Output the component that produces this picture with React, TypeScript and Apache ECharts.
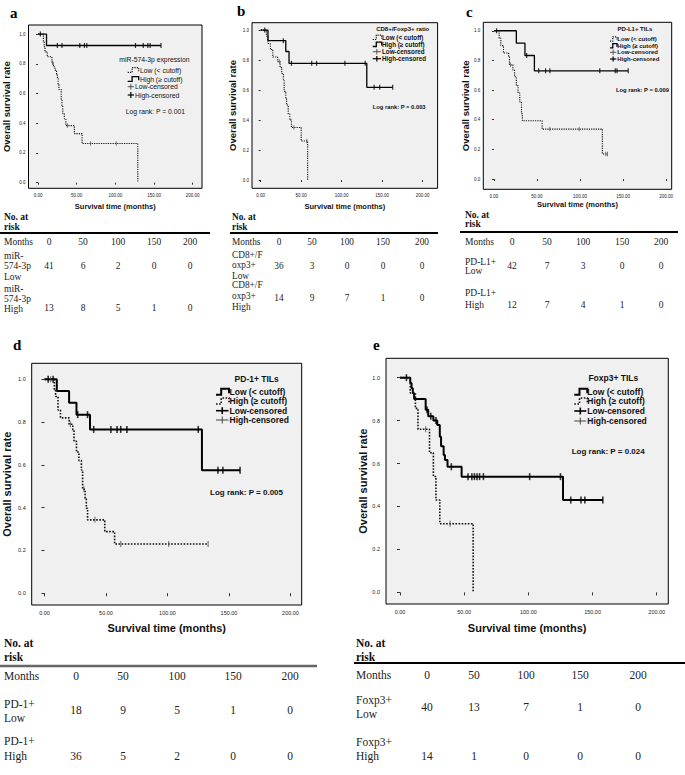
import React, { useEffect, useRef } from "react";
import * as echarts from "echarts";

const TICK_MONTHS = [0, 50, 100, 150, 200];
const SURV_TICKS = [0, 0.2, 0.4, 0.6, 0.8, 1.0];
const LEGEND_ITEMS = ["Low (< cutoff)", "High (\u2265 cutoff)", "Low-censored", "High-censored"];
const X_TITLE = "Survival time (months)";
const Y_TITLE = "Overall survival rate";
const PANEL_LABELS = ["a", "b", "c", "d", "e"];
const LEGEND_TITLES = ["miR-574-3p expression", "CD8+/Foxp3+ ratio", "PD-L1+ TILs", "PD-1+ TILs", "Foxp3+ TILs"];
const P_VALUES = ["0.001", "0.003", "0.009", "0.005", "0.024"];
const RISK_MONTHS = [0, 50, 100, 150, 200];

// ---- a: miR-574-3p ----
const aLowSteps = [[0, 1], [7, 0.951], [8, 0.915], [9, 0.88], [12, 0.847], [18, 0.805], [20, 0.78], [22, 0.757], [24, 0.73], [25, 0.7], [26, 0.66], [27, 0.627], [30, 0.555], [31, 0.52], [32, 0.465], [34, 0.43], [36, 0.384], [47, 0.33], [57, 0.263], [129, 0]];
const aLowCensored = [19, 38, 68, 101];
const aHighSteps = [[0, 1], [11, 0.923]];
const aHighCensored = [3, 25, 31, 54, 60, 63, 126, 136, 142, 145, 159];
const aRiskLabels = ["miR-\n574-3p\nLow", "miR-\n574-3p\nHigh"];
const aRiskLow = [41, 6, 2, 0, 0];
const aRiskHigh = [13, 8, 5, 1, 0];

// ---- b: CD8+/Foxp3+ ratio ----
const bLowSteps = [[0, 1], [7, 0.96], [9, 0.91], [12, 0.87], [15, 0.82], [21, 0.79], [24, 0.75], [26, 0.71], [28, 0.67], [29, 0.59], [31, 0.54], [32, 0.5], [34, 0.44], [36, 0.4], [38, 0.35], [50, 0.26], [58, 0]];
const bLowCensored = [23, 41, 57];
const bHighSteps = [[0, 1], [9, 0.929], [31, 0.857], [35, 0.778], [131, 0.618]];
const bHighCensored = [5, 28, 38, 63, 69, 104, 129, 140, 147, 163];
const bRiskLabels = ["CD8+/F\noxp3+\nLow", "CD8+/F\noxp3+\nHigh"];
const bRiskLow = [36, 3, 0, 0, 0];
const bRiskHigh = [14, 9, 7, 1, 0];

// ---- c: PD-L1+ TILs ----
const cLowSteps = [[0, 1], [6, 0.95], [8, 0.9], [11, 0.85], [17, 0.825], [18, 0.77], [22, 0.735], [24, 0.69], [26, 0.63], [28, 0.58], [30, 0.52], [32, 0.44], [33, 0.393], [56, 0.337], [126, 0.169]];
const cLowCensored = [19, 65, 99, 130, 132];
const cHighSteps = [[0, 1], [26, 0.917], [36, 0.833], [47, 0.73]];
const cHighCensored = [3, 38, 52, 60, 65, 123, 141, 143, 156];
const cRiskLabels = ["PD-L1+\nLow", "PD-L1+\nHigh"];
const cRiskLow = [42, 7, 3, 0, 0];
const cRiskHigh = [12, 7, 4, 1, 0];

// ---- d: PD-1+ TILs ----
const dLowSteps = [[0, 1], [10, 0.946], [20, 0.891], [26, 0.835], [37, 0.766], [128, 0.575]];
const dLowCensored = [3, 7, 27, 35, 40, 54, 59, 62, 67, 125, 141, 145, 159];
const dHighSteps = [[0, 1], [8, 0.95], [9, 0.92], [11, 0.857], [13, 0.82], [20, 0.79], [23, 0.76], [24, 0.71], [26, 0.66], [28, 0.62], [30, 0.576], [31, 0.486], [33, 0.44], [34, 0.397], [35, 0.343], [49, 0.288], [57, 0.23]];
const dHighCensored = [5, 21, 32, 41, 62, 101, 133];
const dRiskLabels = ["PD-1+\nLow", "PD-1+\nHigh"];
const dRiskLow = [18, 9, 5, 1, 0];
const dRiskHigh = [36, 5, 2, 0, 0];

// ---- e: Foxp3+ TILs ----
const eLowSteps = [[0, 1], [8, 0.975], [9, 0.95], [10, 0.927], [11, 0.9], [20, 0.85], [22, 0.82], [26, 0.8], [29, 0.78], [31, 0.725], [32, 0.68], [34, 0.64], [35, 0.617], [37, 0.585], [48, 0.539], [127, 0.43]];
const eLowCensored = [5, 21, 24, 28, 40, 53, 56, 58, 60, 62, 65, 101, 125, 133, 141, 144, 158];
const eHighSteps = [[0, 1], [8, 0.929], [12, 0.857], [14, 0.76], [23, 0.65], [26, 0.54], [28, 0.43], [31, 0.32], [57, 0]];
const eHighCensored = [20, 39];
const eRiskLabels = ["Foxp3+\nLow", "Foxp3+\nHigh"];
const eRiskLow = [40, 13, 7, 1, 0];
const eRiskHigh = [14, 1, 0, 0, 0];

const DATA = [
  { lowSteps: aLowSteps, lowCens: aLowCensored, highSteps: aHighSteps, highCens: aHighCensored, riskLabels: aRiskLabels, riskLow: aRiskLow, riskHigh: aRiskHigh },
  { lowSteps: bLowSteps, lowCens: bLowCensored, highSteps: bHighSteps, highCens: bHighCensored, riskLabels: bRiskLabels, riskLow: bRiskLow, riskHigh: bRiskHigh },
  { lowSteps: cLowSteps, lowCens: cLowCensored, highSteps: cHighSteps, highCens: cHighCensored, riskLabels: cRiskLabels, riskLow: cRiskLow, riskHigh: cRiskHigh },
  { lowSteps: dLowSteps, lowCens: dLowCensored, highSteps: dHighSteps, highCens: dHighCensored, riskLabels: dRiskLabels, riskLow: dRiskLow, riskHigh: dRiskHigh },
  { lowSteps: eLowSteps, lowCens: eLowCensored, highSteps: eHighSteps, highCens: eHighCensored, riskLabels: eRiskLabels, riskLow: eRiskLow, riskHigh: eRiskHigh },
];

const SANS = "'Liberation Sans', Arial, sans-serif";
const SERIF = "'Liberation Serif', 'Times New Roman', serif";

const DOT_TOP = { color: "#111", width: 1.1, type: [1.2, 1.1] };
const SOLID_TOP = { color: "#000", width: 1.3, type: "solid" };
const DOT_BOT = { color: "#111", width: 1.6, type: [1.6, 1.5] };
const SOLID_BOT = { color: "#000", width: 2, type: "solid" };

const LAYOUT = [
  {
    labelPos: [10, 12.5], grid: { left: 20, top: 25, width: 182, height: 163.3 },
    xMin: -12.3, xMax: 212, yMin: -0.038, yMax: 1.061,
    tickFont: 4.5, tickLen: 2, xLabelMargin: 5, yLabelMargin: 3,
    xNameFont: 7.5, xNameGap: 14, yNameFont: 9.5, yNameGap: 17.5,
    low: DOT_TOP, high: SOLID_TOP, lowCensor: [0.9, 4.5], highCensor: [1.2, 5], lowCensorColor: "#444", highCensorColor: "#000",
    lg: { titleX: 119.3, titleAlign: "left", titleY: 59.3, titleFont: 6.8, weight: "normal", iconX: 127.7, iconW: 11, textX: [140, 140, 135, 135], ys: [70, 79, 86.7, 95], font: 6.8, lrX: 125.7, lrY: 111, lrFont: 6.8 },
    tb: { left: 4, headY: 222, headLH: 10, ruleY: 233, ruleX1: 0, ruleX2: 210, ruleW: 1.8, ruleColor: "#000", monthsY: 242, cols: [49, 83, 118, 154, 190], font: 9.5, rowLabelY: [266.3, 299.3], rowLH: [10.3, 10], valueY: [266, 308.3] },
  },
  {
    labelPos: [237, 11], grid: { left: 252, top: 22.7, width: 185.6, height: 165.6 },
    xMin: -10.7, xMax: 218.4, yMin: -0.055, yMax: 1.049,
    tickFont: 4.5, tickLen: 2, xLabelMargin: 5, yLabelMargin: 3,
    xNameFont: 7.5, xNameGap: 14, yNameFont: 9.5, yNameGap: 15,
    low: DOT_TOP, high: SOLID_TOP, lowCensor: [0.9, 4.5], highCensor: [1.2, 5], lowCensorColor: "#444", highCensorColor: "#000",
    lg: { titleX: 402.7, titleAlign: "center", titleY: 29.3, titleFont: 6, weight: "bold", iconX: 372.7, iconW: 9, textX: [382, 382, 382, 382], ys: [37.3, 44.3, 51.7, 58.7], font: 6.3, lrX: 372.7, lrY: 107.3, lrFont: 5.8 },
    tb: { left: 232, headY: 222, headLH: 10, ruleY: 233, ruleX1: 230, ruleX2: 438, ruleW: 1.8, ruleColor: "#000", monthsY: 242, cols: [279, 312, 347, 383, 422], font: 9.3, rowLabelY: [265, 296], rowLH: [10.5, 11], valueY: [265.5, 298] },
  },
  {
    labelPos: [466, 12], grid: { left: 483.3, top: 22.3, width: 188.4, height: 167 },
    xMin: -12.4, xMax: 206.6, yMin: -0.069, yMax: 1.057,
    tickFont: 4.5, tickLen: 2, xLabelMargin: 5, yLabelMargin: 3,
    xNameFont: 7.5, xNameGap: 7.5, yNameFont: 9.5, yNameGap: 13,
    low: DOT_TOP, high: SOLID_TOP, lowCensor: [0.9, 4.5], highCensor: [1.2, 5], lowCensorColor: "#444", highCensorColor: "#000",
    lg: { titleX: 635, titleAlign: "center", titleY: 29.3, titleFont: 6, weight: "bold", iconX: 610, iconW: 7, textX: [617.3, 617.3, 617.3, 617.3], ys: [39, 45.7, 52.3, 59], font: 6, lrX: 616, lrY: 90, lrFont: 5.8 },
    tb: { left: 465, headY: 219.5, headLH: 9.5, ruleY: 232, ruleX1: 460, ruleX2: 678, ruleW: 1.8, ruleColor: "#000", monthsY: 242, cols: [512, 547, 583, 622, 661], font: 9.5, rowLabelY: [266, 299], rowLH: [9, 11.5], valueY: [265.7, 305] },
  },
  {
    labelPos: [13, 345], grid: { left: 31.7, top: 363.3, width: 270, height: 241.7 },
    xMin: -10.4, xMax: 209.1, yMin: -0.055, yMax: 1.075,
    tickFont: 5.5, tickLen: 3, xLabelMargin: 5, yLabelMargin: 6,
    xNameFont: 11, xNameGap: 17.5, yNameFont: 11, yNameGap: 19.5,
    low: SOLID_BOT, high: DOT_BOT, lowCensor: [1.6, 7], highCensor: [1, 6], lowCensorColor: "#000", highCensorColor: "#444",
    lg: { titleX: 256.7, titleAlign: "center", titleY: 379.3, titleFont: 8.5, weight: "bold", iconX: 216, iconW: 13, textX: [229.5, 229.5, 229.5, 229.5], ys: [391.7, 401, 410.7, 420], font: 8.5, lrX: 210, lrY: 492.7, lrFont: 8 },
    tb: { left: 4, headY: 650, headLH: 13.4, ruleY: 666, ruleX1: 0, ruleX2: 317, ruleW: 2.5, ruleColor: "#666", monthsY: 676, cols: [76, 123, 177, 233, 290], font: 11.5, rowLabelY: [711, 748.3], rowLH: [13.4, 15], valueY: [710, 756] },
  },
  {
    labelPos: [373, 345], grid: { left: 386, top: 358.3, width: 282.3, height: 245.7 },
    xMin: -10.9, xMax: 209, yMin: -0.054, yMax: 1.09,
    tickFont: 5.5, tickLen: 3, xLabelMargin: 5, yLabelMargin: 6,
    xNameFont: 11, xNameGap: 18.5, yNameFont: 11, yNameGap: 17.5,
    low: SOLID_BOT, high: DOT_BOT, lowCensor: [1.6, 7], highCensor: [1, 6], lowCensorColor: "#000", highCensorColor: "#444",
    lg: { titleX: 613.3, titleAlign: "center", titleY: 377.7, titleFont: 8.5, weight: "bold", iconX: 574.3, iconW: 13, textX: [587.3, 587.3, 587.3, 587.3], ys: [391.7, 401, 411, 421], font: 8.5, lrX: 571.7, lrY: 451, lrFont: 8 },
    tb: { left: 356, headY: 650, headLH: 13.4, ruleY: 663, ruleX1: 354, ruleX2: 685, ruleW: 2, ruleColor: "#000", monthsY: 675, cols: [427, 474, 526, 580, 638], font: 11.5, rowLabelY: [707, 749], rowLH: [13.3, 14.3], valueY: [707, 756] },
  },
];

function survAt(steps: number[][], t: number) {
  let s = steps[0][1];
  for (const p of steps) if (p[0] <= t) s = p[1];
  return s;
}
function curveData(steps: number[][], cens: number[]) {
  const last = steps[steps.length - 1];
  const end = Math.max(last[0], ...cens);
  const d = steps.map((p) => [p[0], p[1]]);
  if (end > last[0]) d.push([end, last[1]]);
  return d;
}

function txt(x: number, y: number, text: string, size: number, opts: any = {}) {
  return {
    type: "text", x, y, silent: true,
    style: {
      text, fontSize: size, fontFamily: opts.family || SANS, fontWeight: opts.weight || "normal",
      fill: opts.fill || "#111", align: opts.align || "left", verticalAlign: "middle",
      lineHeight: opts.lh || size * 1.15,
    },
  };
}
function dashOf(t: any) {
  return Array.isArray(t) ? t : null;
}

function buildOption() {
  const grids: any[] = [];
  const xAxes: any[] = [];
  const yAxes: any[] = [];
  const series: any[] = [];
  const graphics: any[] = [];

  LAYOUT.forEach((L, i) => {
    const D = DATA[i];
    grids.push({ ...L.grid, show: true, backgroundColor: "#f0f0f0", borderColor: "#000", borderWidth: 1, containLabel: false });
    xAxes.push({
      type: "value", gridIndex: i, min: L.xMin, max: L.xMax,
      axisLine: { show: false }, splitLine: { show: false },
      axisTick: { show: true, customValues: TICK_MONTHS, length: L.tickLen, lineStyle: { color: "#000", width: 0.8 } },
      axisLabel: { customValues: TICK_MONTHS, formatter: (v: number) => v.toFixed(2), fontSize: L.tickFont, color: "#222", margin: L.xLabelMargin, fontFamily: SANS },
      name: X_TITLE, nameLocation: "middle", nameGap: L.xNameGap,
      nameTextStyle: { fontSize: L.xNameFont, fontWeight: "bold", fontFamily: SANS, color: "#111" },
    });
    yAxes.push({
      type: "value", gridIndex: i, min: L.yMin, max: L.yMax,
      axisLine: { show: false }, splitLine: { show: false },
      axisTick: { show: true, customValues: SURV_TICKS, length: L.tickLen, lineStyle: { color: "#000", width: 0.8 } },
      axisLabel: { customValues: SURV_TICKS, formatter: (v: number) => v.toFixed(1), fontSize: L.tickFont, color: "#222", margin: L.yLabelMargin, fontFamily: SANS },
      name: Y_TITLE, nameLocation: "middle", nameGap: L.yNameGap,
      nameTextStyle: { fontSize: L.yNameFont, fontWeight: "bold", fontFamily: SANS, color: "#111" },
    });
    const mk = (steps: number[][], cens: number[], st: any, sz: number[], col: string, nm: string) => {
      series.push({
        type: "line", name: nm + " " + i, xAxisIndex: i, yAxisIndex: i, step: "end", symbol: "none", showSymbol: false,
        data: curveData(steps, cens), lineStyle: { color: st.color, width: st.width, type: st.type }, z: nm === "high" ? 3 : 2,
      });
      series.push({
        type: "scatter", name: nm + " censored " + i, xAxisIndex: i, yAxisIndex: i, symbol: "rect", symbolSize: sz,
        data: cens.map((t) => [t, survAt(steps, t)]), itemStyle: { color: col }, z: 4,
      });
    };
    mk(D.lowSteps, D.lowCens, L.low, L.lowCensor, L.lowCensorColor, "low");
    mk(D.highSteps, D.highCens, L.high, L.highCensor, L.highCensorColor, "high");

    // panel label
    graphics.push(txt(L.labelPos[0], L.labelPos[1], PANEL_LABELS[i], 15, { family: SERIF, weight: "bold", fill: "#000" }));

    // legend
    const g = L.lg;
    graphics.push(txt(g.titleX, g.titleY, LEGEND_TITLES[i], g.titleFont, { weight: g.weight, align: g.titleAlign }));
    LEGEND_ITEMS.forEach((item, k) => {
      const y = g.ys[k];
      const x = g.iconX;
      const w = g.iconW;
      const h = g.font * 0.7;
      if (k < 2) {
        const st = k === 0 ? L.low : L.high;
        graphics.push({
          type: "polyline", silent: true,
          shape: { points: [[x, y + h / 2], [x + w * 0.4, y + h / 2], [x + w * 0.4, y - h / 2], [x + w, y - h / 2], [x + w, y + h / 4]] },
          style: { stroke: st.color, lineWidth: st.width, lineDash: dashOf(st.type), fill: null },
        });
      } else {
        const col = k === 2 ? L.lowCensorColor : L.highCensorColor;
        const lw = k === 2 ? L.lowCensor[0] : L.highCensor[0];
        const pw = Math.min(w, g.textX[k] - x - 1);
        graphics.push({ type: "line", silent: true, shape: { x1: x, y1: y, x2: x + pw, y2: y }, style: { stroke: col, lineWidth: lw } });
        graphics.push({ type: "line", silent: true, shape: { x1: x + pw / 2, y1: y - h / 2 - 0.5, x2: x + pw / 2, y2: y + h / 2 + 0.5 }, style: { stroke: col, lineWidth: lw } });
      }
      graphics.push(txt(g.textX[k], y, item, g.font, { weight: g.weight }));
    });
    graphics.push(txt(g.lrX, g.lrY, "Log rank: P = " + P_VALUES[i], g.lrFont, { weight: g.weight }));

    // at-risk table
    const T = L.tb;
    const sf = { family: SERIF, fill: "#222" };
    graphics.push(txt(T.left, T.headY, "No. at\nrisk", T.font, { ...sf, weight: "bold", lh: T.headLH, fill: "#111" }));
    graphics.push({ type: "line", silent: true, shape: { x1: T.ruleX1, y1: T.ruleY, x2: T.ruleX2, y2: T.ruleY }, style: { stroke: T.ruleColor, lineWidth: T.ruleW } });
    graphics.push(txt(T.left, T.monthsY, "Months", T.font, sf));
    RISK_MONTHS.forEach((m, c) => graphics.push(txt(T.cols[c], T.monthsY, String(m), T.font, { ...sf, align: "center" })));
    [D.riskLow, D.riskHigh].forEach((vals, r) => {
      graphics.push(txt(T.left, T.rowLabelY[r], D.riskLabels[r], T.font, { ...sf, lh: T.rowLH[r] }));
      vals.forEach((v, c) => graphics.push(txt(T.cols[c], T.valueY[r], String(v), T.font, { ...sf, align: "center" })));
    });
  });

  return {
    animation: false,
    backgroundColor: "#fff",
    grid: grids,
    xAxis: xAxes,
    yAxis: yAxes,
    series,
    graphic: { elements: graphics },
  };
}

export default function App() {
  const ref = useRef<HTMLDivElement>(null);
  useEffect(() => {
    if (!ref.current) return;
    const chart = echarts.init(ref.current, null, { renderer: "svg" });
    chart.setOption(buildOption());
    return () => chart.dispose();
  }, []);
  return <div ref={ref} style={{ position: "fixed", left: 0, top: 0, width: 685, height: 775, background: "#fff" }} />;
}
